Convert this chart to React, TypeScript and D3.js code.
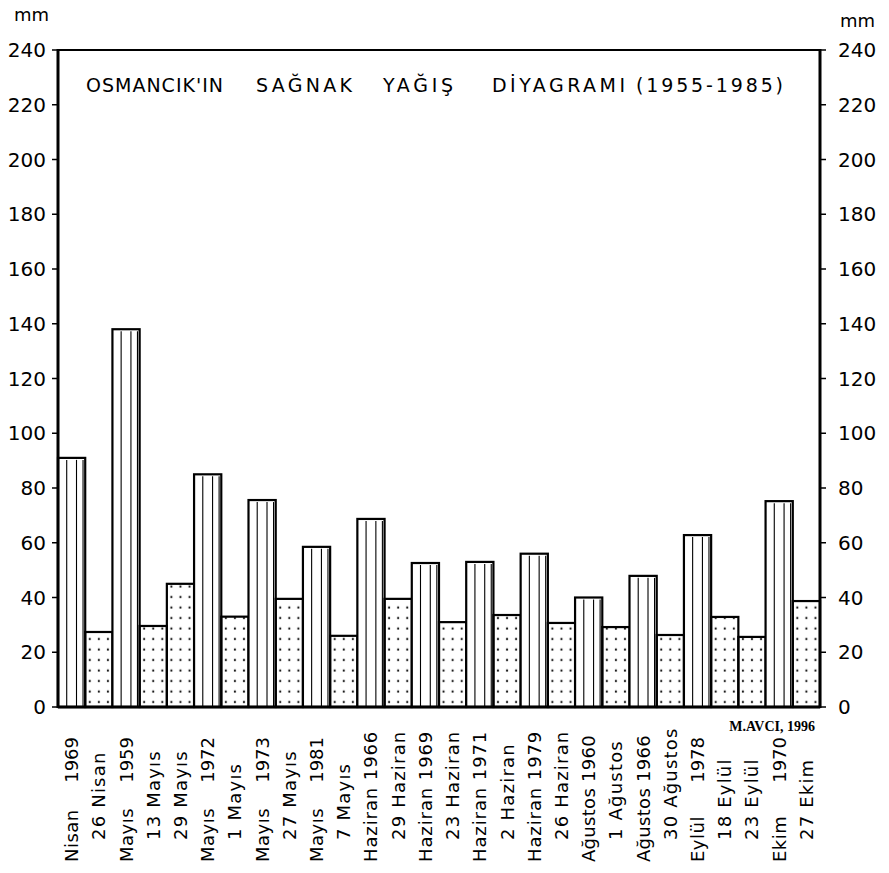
import { scaleBand, scaleLinear } from "d3";

const categories = [
  "Nisan 1969", "26 Nisan", "Mayıs 1959", "13 Mayıs", "29 Mayıs", "Mayıs 1972",
  "1 Mayıs", "Mayıs 1973", "27 Mayıs", "Mayıs 1981", "7 Mayıs", "Haziran 1966",
  "29 Haziran", "Haziran 1969", "23 Haziran", "Haziran 1971", "2 Haziran",
  "Haziran 1979", "26 Haziran", "Ağustos 1960", "1 Ağustos", "Ağustos 1966",
  "30 Ağustos", "Eylül 1978", "18 Eylül", "23 Eylül", "Ekim 1970", "27 Ekim",
];

const values = [
  91, 27.4, 138, 29.6, 45, 85, 33, 75.6, 39.5, 58.5, 26, 68.7, 39.5, 52.6,
  31, 53, 33.6, 56, 30.7, 40, 29.2, 47.9, 26.3, 62.8, 32.9, 25.6, 75.2, 38.7,
];

const yTicks = [0, 20, 40, 60, 80, 100, 120, 140, 160, 180, 200, 220, 240];

const titleWords = ["OSMANCIK'IN", "SAĞNAK", "YAĞIŞ", "DİYAGRAMI", "(1955-1985)"];
const credit = "M.AVCI, 1996";

const font = "DejaVu Sans, sans-serif";

// monthly totals carry a year in the label, daily storms don't
const isMonthly = (label: string) => /\d{4}/.test(label);

// title word placement (x start, width) as lettered on the original
const titleLayout = [
  [86, 137],
  [256, 96],
  [383, 70],
  [492, 133],
  [636, 147],
];

export default function App() {
  const left = 58;
  const right = 820;
  const top = 50;
  const bottom = 707;

  const x = scaleBand<string>().domain(categories).range([left, right]).padding(0);
  const y = scaleLinear().domain([0, 240]).range([bottom, top]);
  const bw = x.bandwidth();

  return (
    <svg
      width={889}
      height={873}
      style={{ position: "absolute", left: 0, top: 0, background: "#fff" }}
      fontFamily={font}
    >
      <defs>
        <pattern
          id="dots"
          patternUnits="userSpaceOnUse"
          x={left}
          y={bottom}
          width={bw / 3}
          height={10.5}
        >
          <rect x={bw / 6 - 1} y={4.5} width={2} height={2} fill="#111" />
        </pattern>
      </defs>

      {/* bars */}
      {categories.map((c, i) => {
        const x0 = x(c)!;
        const y0 = y(values[i]);
        const h = bottom - y0;
        const monthly = isMonthly(c);
        return (
          <g key={c}>
            <rect
              x={x0}
              y={y0}
              width={bw}
              height={h}
              fill={monthly ? "#fff" : "url(#dots)"}
              stroke="#000"
              strokeWidth={2.2}
            />
            {monthly &&
              [0.32, 0.68, 0.92].map((f) => (
                <line
                  key={f}
                  x1={x0 + bw * f}
                  x2={x0 + bw * f}
                  y1={y0 + 2}
                  y2={bottom}
                  stroke="#000"
                  strokeWidth={1.1}
                />
              ))}
          </g>
        );
      })}

      {/* frame */}
      <line x1={left} x2={right} y1={top} y2={top} stroke="#000" strokeWidth={2} />
      <line x1={left} x2={right} y1={bottom} y2={bottom} stroke="#000" strokeWidth={3} />
      <line x1={left} x2={left} y1={top - 1} y2={bottom + 1} stroke="#000" strokeWidth={3} />
      <line x1={right} x2={right} y1={top - 1} y2={bottom + 1} stroke="#000" strokeWidth={3} />

      {/* left axis */}
      {yTicks.map((t) => (
        <g key={`l${t}`}>
          <line x1={left - 6} x2={left} y1={y(t)} y2={y(t)} stroke="#000" strokeWidth={1.5} />
          <text
            x={left - 12}
            y={y(t)}
            textAnchor="end"
            dominantBaseline="central"
            fontSize={20}
          >
            {t}
          </text>
        </g>
      ))}
      {/* right axis */}
      {yTicks.map((t) => (
        <g key={`r${t}`}>
          <line x1={right} x2={right + 6} y1={y(t)} y2={y(t)} stroke="#000" strokeWidth={1.5} />
          <text
            x={right + 18}
            y={y(t)}
            textAnchor="start"
            dominantBaseline="central"
            fontSize={20}
          >
            {t}
          </text>
        </g>
      ))}

      <text x={14} y={21} fontSize={18}>mm</text>
      <text x={840} y={27} fontSize={18}>mm</text>

      {titleWords.map((w, i) => (
        <text
          key={w}
          x={titleLayout[i][0]}
          y={92}
          fontSize={19}
          textLength={titleLayout[i][1]}
          lengthAdjust="spacing"
        >
          {w}
        </text>
      ))}

      <text
        x={815}
        y={731}
        textAnchor="end"
        fontFamily="Liberation Serif, serif"
        fontWeight="bold"
        fontSize={14}
      >
        {credit}
      </text>

      {/* category labels */}
      {categories.map((c) => {
        const cx = x(c)! + bw / 2;
        if (isMonthly(c)) {
          const m = c.match(/^(.*?)\s*(\d{4})$/)!;
          if (m[1] === "Haziran" || m[1] === "Ağustos") {
            return (
              <text
                key={`t${c}`}
                transform={`translate(${cx},862) rotate(-90)`}
                textAnchor="start"
                dominantBaseline="central"
                fontSize={18}
                letterSpacing={m[1] === "Haziran" ? 0.9 : 0.3}
              >
                {c}
              </text>
            );
          }
          return (
            <g key={`t${c}`}>
              <text
                transform={`translate(${cx},862) rotate(-90)`}
                textAnchor="start"
                dominantBaseline="central"
                fontSize={18}
                letterSpacing={0.5}
              >
                {m[1]}
              </text>
              <text
                transform={`translate(${cx},737) rotate(-90)`}
                textAnchor="end"
                dominantBaseline="central"
                fontSize={18}
              >
                {m[2]}
              </text>
            </g>
          );
        }
        return (
          <text
            key={`t${c}`}
            transform={`translate(${cx},840) rotate(-90)`}
            textAnchor="start"
            dominantBaseline="central"
            fontSize={18}
            letterSpacing={1.2}
          >
            {c}
          </text>
        );
      })}
    </svg>
  );
}
